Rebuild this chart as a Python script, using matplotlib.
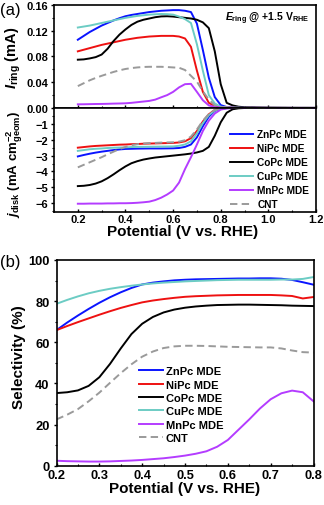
import matplotlib
matplotlib.use("Agg")
import matplotlib.pyplot as plt
from matplotlib.ticker import MultipleLocator, FormatStrFormatter

plt.rcParams['font.family'] = ['Liberation Sans', 'DejaVu Sans']
plt.rcParams['font.weight'] = 'bold'
plt.rcParams['mathtext.fontset'] = 'custom'
plt.rcParams['mathtext.rm'] = 'Liberation Sans:bold'
plt.rcParams['mathtext.bf'] = 'Liberation Sans:bold'
plt.rcParams['mathtext.it'] = 'Liberation Sans:italic:bold'
plt.rcParams['axes.linewidth'] = 1.2

# ---- data (a): RRDE, potential in V vs. RHE ----
pot_a = [0.2, 0.225, 0.25, 0.275, 0.3, 0.325, 0.35, 0.375, 0.4, 0.425, 0.45, 0.475,
         0.5, 0.525, 0.55, 0.575, 0.6, 0.625, 0.65, 0.675, 0.7, 0.725, 0.75, 0.775,
         0.8, 0.825, 0.85, 0.875, 0.9, 0.95, 1.0, 1.1, 1.2]

ring_zn = [0.106, 0.112, 0.118, 0.123, 0.128, 0.132, 0.136, 0.1395, 0.1425, 0.1445, 0.146, 0.1475,
           0.149, 0.150, 0.151, 0.1515, 0.152, 0.152, 0.151, 0.149, 0.131, 0.090, 0.047, 0.017,
           0.0045, 0.0015, 0.0008, 0.0005, 0.0004, 0.0003, 0.0002, 0.0001, 0.0001]
ring_ni = [0.088, 0.0905, 0.093, 0.0955, 0.098, 0.100, 0.102, 0.104, 0.106, 0.1075, 0.109, 0.110,
           0.111, 0.1115, 0.112, 0.112, 0.112, 0.111, 0.108, 0.095, 0.058, 0.025, 0.008, 0.003,
           0.0015, 0.001, 0.0007, 0.0005, 0.0004, 0.0003, 0.0002, 0.0001, 0.0001]
ring_co = [0.075, 0.0755, 0.077, 0.079, 0.083, 0.092, 0.104, 0.114, 0.122, 0.129, 0.134, 0.137,
           0.139, 0.141, 0.1422, 0.1425, 0.142, 0.141, 0.140, 0.139, 0.137, 0.133, 0.124, 0.088,
           0.037, 0.008, 0.004, 0.002, 0.0012, 0.0008, 0.0005, 0.0003, 0.0002]
ring_cu = [0.125, 0.1265, 0.128, 0.130, 0.132, 0.134, 0.136, 0.138, 0.140, 0.1415, 0.143, 0.144,
           0.145, 0.1455, 0.146, 0.1457, 0.145, 0.142, 0.138, 0.132, 0.099, 0.058, 0.020, 0.007,
           0.002, 0.001, 0.0006, 0.0004, 0.0003, 0.0002, 0.0002, 0.0001, 0.0001]
ring_mn = [0.0057, 0.0058, 0.006, 0.0062, 0.0063, 0.0065, 0.0068, 0.007, 0.0073, 0.008, 0.009, 0.010,
           0.011, 0.013, 0.0166, 0.020, 0.025, 0.032, 0.037, 0.0375, 0.025, 0.012, 0.004, 0.0015,
           0.0008, 0.0005, 0.0004, 0.0003, 0.0002, 0.0002, 0.0001, 0.0001, 0.0001]
ring_cnt = [0.034, 0.0385, 0.043, 0.0467, 0.050, 0.053, 0.056, 0.0585, 0.0606, 0.062, 0.063, 0.0637,
            0.064, 0.064, 0.064, 0.0636, 0.063, 0.0625, 0.059, 0.050, 0.041, 0.026, 0.013, 0.004,
            0.0015, 0.001, 0.0006, 0.0004, 0.0003, 0.0002, 0.0002, 0.0001, 0.0001]

disk_zn = [-3.05, -2.96, -2.88, -2.81, -2.75, -2.70, -2.65, -2.61, -2.58, -2.57, -2.56, -2.555,
           -2.55, -2.55, -2.55, -2.545, -2.54, -2.52, -2.45, -2.30, -1.85, -1.15, -0.55, -0.18,
           -0.05, -0.01, 0, 0, 0, 0, 0, 0, 0]
disk_ni = [-2.50, -2.46, -2.42, -2.39, -2.37, -2.35, -2.33, -2.31, -2.30, -2.28, -2.27, -2.25,
           -2.24, -2.23, -2.22, -2.21, -2.20, -2.17, -2.10, -1.90, -1.45, -0.85, -0.40, -0.12,
           -0.03, 0, 0, 0, 0, 0, 0, 0, 0]
disk_co = [-4.92, -4.90, -4.85, -4.76, -4.62, -4.42, -4.18, -3.92, -3.68, -3.48, -3.35, -3.25,
           -3.18, -3.12, -3.08, -3.04, -3.00, -2.96, -2.92, -2.87, -2.80, -2.70, -2.45, -1.75,
           -0.90, -0.30, -0.08, -0.02, 0, 0, 0, 0, 0]
disk_cu = [-2.70, -2.65, -2.60, -2.57, -2.55, -2.52, -2.50, -2.49, -2.48, -2.46, -2.45, -2.445,
           -2.44, -2.435, -2.43, -2.425, -2.42, -2.38, -2.30, -2.10, -1.60, -0.95, -0.45, -0.15,
           -0.04, 0, 0, 0, 0, 0, 0, 0, 0]
disk_mn = [-6.03, -6.03, -6.02, -6.02, -6.02, -6.01, -6.01, -6.00, -6.00, -5.99, -5.97, -5.94,
           -5.90, -5.80, -5.65, -5.45, -5.20, -4.70, -3.85, -3.10, -2.30, -1.45, -0.80, -0.35,
           -0.10, -0.03, 0, 0, 0, 0, 0, 0, 0]
disk_cnt = [-3.74, -3.58, -3.42, -3.26, -3.10, -2.92, -2.75, -2.59, -2.45, -2.35, -2.28, -2.24,
            -2.21, -2.20, -2.18, -2.17, -2.16, -2.12, -2.03, -1.80, -1.35, -0.80, -0.38, -0.12,
            -0.03, 0, 0, 0, 0, 0, 0, 0, 0]

# ---- data (b): H2O2 selectivity (%) ----
pot_b = [0.2, 0.225, 0.25, 0.275, 0.3, 0.325, 0.35, 0.375, 0.4, 0.425, 0.45, 0.475, 0.5,
         0.525, 0.55, 0.575, 0.6, 0.625, 0.65, 0.675, 0.7, 0.725, 0.75, 0.775, 0.8]
sel_zn = [65.9, 69.6, 73.0, 76.2, 79.2, 81.9, 84.3, 86.4, 88.1, 89.0, 89.6, 90.1, 90.4,
          90.6, 90.7, 90.8, 90.9, 91.0, 91.0, 91.1, 91.1, 90.9, 90.3, 89.2, 88.0]
sel_ni = [65.9, 67.9, 69.8, 71.6, 73.4, 75.1, 76.7, 78.1, 79.4, 80.3, 81.0, 81.6, 82.1,
          82.4, 82.6, 82.8, 82.9, 83.0, 83.0, 83.0, 83.0, 82.8, 82.5, 81.3, 82.0]
sel_co = [35.3, 35.7, 36.6, 38.8, 43.0, 49.5, 57.0, 64.0, 69.0, 72.3, 74.5, 75.9, 76.8,
          77.4, 77.8, 78.1, 78.2, 78.3, 78.3, 78.2, 78.1, 78.0, 77.8, 77.7, 77.6]
sel_cu = [78.7, 80.6, 82.3, 83.8, 85.0, 86.0, 86.8, 87.5, 88.1, 88.6, 89.0, 89.3, 89.6,
          89.8, 90.0, 90.2, 90.3, 90.4, 90.4, 90.4, 90.4, 90.5, 90.5, 90.8, 91.7]
sel_mn = [2.4, 2.2, 2.1, 2.0, 2.0, 2.1, 2.3, 2.5, 2.8, 3.2, 3.6, 4.2, 4.9,
          5.8, 7.0, 9.2, 12.5, 17.5, 22.5, 27.8, 32.3, 35.2, 36.5, 35.7, 31.3]
sel_cnt = [22.5, 24.8, 27.5, 31.3, 35.5, 40.3, 45.0, 49.3, 53.0, 55.5, 57.2, 58.0, 58.3,
           58.3, 58.2, 58.0, 57.8, 57.7, 57.6, 57.5, 57.5, 57.0, 56.0, 55.2, 55.0]

labels = ['ZnPc MDE', 'NiPc MDE', 'CoPc MDE', 'CuPc MDE', 'MnPc MDE', 'CNT']
colors = ['#0a14ff', '#ee1111', '#000000', '#6cccc4', '#b43cff', '#9a9a9a']
dash = (0, (3.8, 2.2))
styles = ['-', '-', '-', '-', '-', dash]

fig = plt.figure(figsize=(3.24, 5.06), dpi=100)
ax1 = fig.add_axes([0.1667, 0.7846, 0.8086, 0.2036])
ax2 = fig.add_axes([0.1667, 0.5791, 0.8086, 0.2055])
ax3 = fig.add_axes([0.1744, 0.0777, 0.7932, 0.4065])

rings = [ring_zn, ring_ni, ring_co, ring_cu, ring_mn, ring_cnt]
disks = [disk_zn, disk_ni, disk_co, disk_cu, disk_mn, disk_cnt]
sels = [sel_zn, sel_ni, sel_co, sel_cu, sel_mn, sel_cnt]

for r, c, ls in zip(rings, colors, styles):
    ax1.plot(pot_a, r, color=c, ls=ls, lw=1.4)
for d, c, ls, lab in zip(disks, colors, styles, labels):
    ax2.plot(pot_a, d, color=c, ls=ls, lw=1.4, label=lab)
for s, c, ls, lab in zip(sels, colors, styles, labels):
    ax3.plot(pot_b, s, color=c, ls=ls, lw=1.4, label=lab)

for ax in (ax1, ax2, ax3):
    ax.tick_params(which='major', direction='out', length=2.5, width=1)
    ax.tick_params(which='minor', direction='out', length=1.5, width=0.8)
    # x ticks point into the plot, labels sit close to the axis
    ax.tick_params(axis='x', which='both', direction='in')

# top panel
ax1.set_xlim(0.1, 1.2)
ax1.set_ylim(0, 0.16)
ax1.xaxis.set_major_locator(MultipleLocator(0.2))
ax1.xaxis.set_minor_locator(MultipleLocator(0.1))
ax1.yaxis.set_major_locator(MultipleLocator(0.04))
ax1.yaxis.set_minor_locator(MultipleLocator(0.02))
ax1.yaxis.set_major_formatter(FormatStrFormatter('%.2f'))
ax1.tick_params(labelbottom=False, labelsize=8)
ax1.tick_params(axis='y', pad=1.6)
ax1.set_ylabel(r'$I_{\rm ring}$ (mA)', fontsize=10.5, fontweight='bold')
ax1.yaxis.set_label_coords(-0.12, 0.5)
ax1.text(0.973, 0.875, r'$E_{\rm ring}$ @ +1.5 V$_{\rm RHE}$', transform=ax1.transAxes,
         ha='right', va='center', fontsize=7.5, fontweight='bold')

# lower panel
ax2.set_xlim(0.1, 1.2)
ax2.set_ylim(-6.55, 0)
ax2.xaxis.set_major_locator(MultipleLocator(0.2))
ax2.xaxis.set_minor_locator(MultipleLocator(0.1))
ax2.set_yticks([-1, -2, -3, -4, -5, -6])
ax2.yaxis.set_minor_locator(MultipleLocator(0.5))
ax2.xaxis.set_major_formatter(FormatStrFormatter('%.1f'))
ax2.tick_params(labelsize=8)
ax2.tick_params(axis='y', pad=1.6)
ax2.tick_params(axis='x', pad=1.5)
ax2.set_ylabel(r'$j_{\rm disk}$ (mA cm$^{-2}_{\rm geom}$)', fontsize=9.5, fontweight='bold')
ax2.yaxis.set_label_coords(-0.112, 0.47)
ax2.set_xlabel('Potential (V vs. RHE)', fontsize=11, fontweight='bold')
ax2.xaxis.set_label_coords(0.49, -0.12)
ax2.legend(loc='center left', bbox_to_anchor=(0.71, 0.6634), bbox_transform=fig.transFigure,
           frameon=False, fontsize=7.3, handlelength=2.3, handletextpad=0.4,
           labelspacing=0.4, borderpad=0, borderaxespad=0)

# panel (b)
ax3.set_xlim(0.2, 0.8)
ax3.set_ylim(0, 100)
ax3.xaxis.set_major_locator(MultipleLocator(0.1))
ax3.xaxis.set_minor_locator(MultipleLocator(0.05))
ax3.yaxis.set_major_locator(MultipleLocator(20))
ax3.yaxis.set_minor_locator(MultipleLocator(10))
ax3.xaxis.set_major_formatter(FormatStrFormatter('%.1f'))
ax3.tick_params(labelsize=9.3)
ax3.tick_params(axis='y', pad=2.5)
ax3.tick_params(axis='x', pad=2.4)
ax3.set_ylabel('Selectivity (%)', fontsize=11, fontweight='bold')
ax3.yaxis.set_label_coords(-0.12, 0.535)
ax3.set_xlabel('Potential (V vs. RHE)', fontsize=11, fontweight='bold')
ax3.xaxis.set_label_coords(0.5, -0.074)
ax3.legend(loc='center left', bbox_to_anchor=(0.43, 0.1986), bbox_transform=fig.transFigure,
           frameon=False, fontsize=8, handlelength=2.15, handletextpad=0.25,
           labelspacing=0.3, borderpad=0, borderaxespad=0)

fig.text(0.0, 1 - 10 / 506, '(a)', fontsize=12, fontweight='normal', ha='left', va='center')
fig.text(0.0, 1 - 262 / 506, '(b)', fontsize=12, fontweight='normal', ha='left', va='center')

fig.savefig('out.png', dpi=100)
